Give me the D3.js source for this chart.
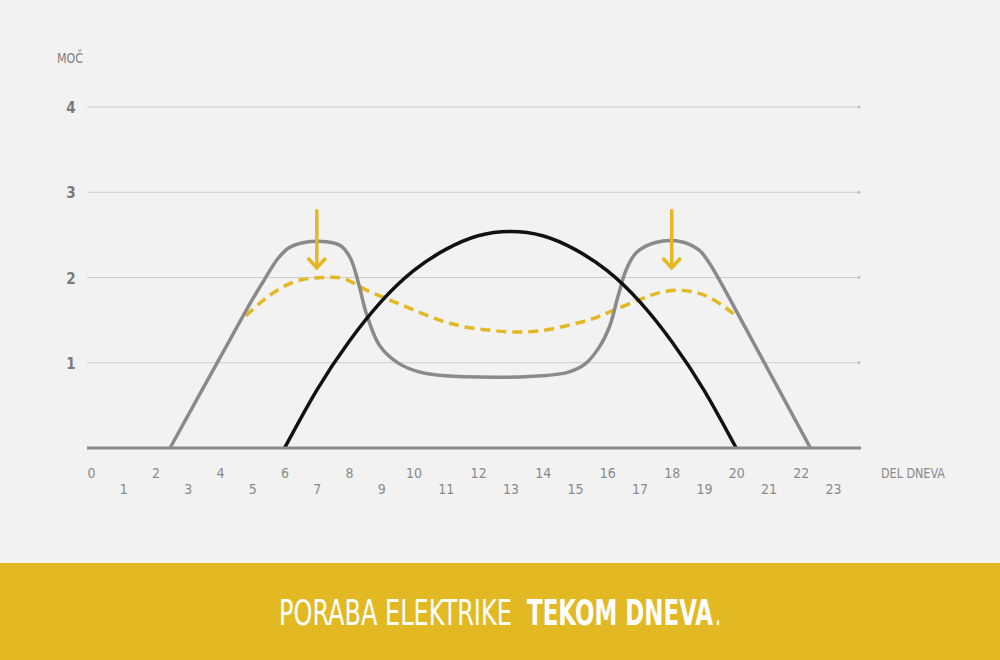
<!DOCTYPE html>
<html>
<head>
<meta charset="utf-8">
<script src="https://cdn.jsdelivr.net/npm/d3@7"></script>
<style>
  html, body { margin: 0; padding: 0; background: #f2f2f2; }
  svg { display: block; }
  text { font-family: "Liberation Sans Narrow", "DejaVu Sans Condensed", "Roboto Condensed", sans-serif; }
</style>
</head>
<body>
<div id="chart"></div>
<script>
// data (hour of day, power)
const hours = d3.range(0, 24);
const yTicks = [1, 2, 3, 4];

// consumption (grey)
const consumption = [
  [2.45, 0], [4, 1.06], [5.0, 1.74], [5.4, 1.99], [5.75, 2.2], [6.1, 2.34],
  [6.6, 2.41], [7.3, 2.42], [7.75, 2.37], [8.05, 2.22], [8.3, 1.92], [8.55, 1.56],
  [8.95, 1.2], [9.55, 0.99], [10.2, 0.89], [10.9, 0.85], [12.5, 0.83], [14.1, 0.85],
  [14.8, 0.89], [15.3, 0.98], [15.75, 1.18], [16.07, 1.42], [16.35, 1.8],
  [16.6, 2.1], [16.9, 2.29], [17.5, 2.41], [18.3, 2.42], [18.85, 2.32],
  [19.15, 2.18], [19.45, 1.99], [20.3, 1.4], [22.3, 0],
];

// solar production (black)
const production = [
  [6, 0], [7, 0.68], [8, 1.25], [9, 1.72], [10, 2.08], [11, 2.33], [12, 2.49],
  [13, 2.54], [14, 2.49], [15, 2.33], [16, 2.08], [17, 1.72], [18, 1.25],
  [19, 0.68], [20, 0],
];

// smoothed consumption (yellow dashed)
const smoothed = [
  [4.8, 1.55], [5.3, 1.72], [5.9, 1.88], [6.5, 1.97], [7.2, 2.0], [7.8, 1.99],
  [8.6, 1.84], [9.3, 1.73], [10, 1.62], [10.8, 1.5], [11.6, 1.42], [12.4, 1.38],
  [13.2, 1.36], [14, 1.38], [14.8, 1.44], [15.5, 1.51], [16.1, 1.6], [17, 1.74],
  [17.6, 1.82], [18.2, 1.85], [18.8, 1.82], [19.3, 1.74], [20, 1.55],
];

// peak arrows: hour, top value, tip value
const arrows = [[7, 2.8, 2.1], [18, 2.8, 2.1]];

// banner title pieces: text, bold?, left x, width
const titleParts = [
  ['PORABA ELEKTRIKE', false, 279, 233],
  ['TEKOM DNEVA', true, 527, 186],
  ['.', false, 715, 6],
];

const width = 1000;
const height = 660;
const yellow = '#e3b823';

const svg = d3.select('#chart').append('svg')
  .attr('width', width)
  .attr('height', height);

svg.append('rect')
  .attr('width', width)
  .attr('height', height)
  .attr('fill', '#f2f2f2');

const x = d3.scaleLinear().domain([0, 23]).range([91, 833]);
const y = d3.scaleLinear().domain([0, 4]).range([448, 107]);

// grid
svg.append('g').selectAll('line')
  .data(yTicks)
  .enter()
  .append('line')
  .attr('x1', 87)
  .attr('x2', 859)
  .attr('y1', (d) => y(d))
  .attr('y2', (d) => y(d))
  .attr('stroke', '#cdcdcd')
  .attr('stroke-width', 1.2);

svg.append('g').selectAll('circle')
  .data(yTicks)
  .enter()
  .append('circle')
  .attr('cx', 859)
  .attr('cy', (d) => y(d))
  .attr('r', 1.4)
  .attr('fill', '#bdbdbd');

// y labels
svg.append('g').selectAll('text')
  .data(yTicks)
  .enter()
  .append('text')
  .attr('x', 71)
  .attr('y', (d) => y(d) + 6)
  .attr('text-anchor', 'middle')
  .attr('font-size', 15)
  .attr('font-weight', 'bold')
  .attr('fill', '#7a7a7a')
  .text((d) => d);

// squeeze a text horizontally to a given width
const fitWidth = (sel, x0, y0, w) => {
  sel.each(function () {
    const len = this.getComputedTextLength();
    d3.select(this).attr('transform', `translate(${x0},${y0}) scale(${w / len},1)`);
  });
};

svg.append('text')
  .attr('font-size', 14)
  .attr('fill', '#808080')
  .text('MOČ')
  .call(fitWidth, 57, 63, 26);

// x axis labels, staggered
const xAxis = d3.axisBottom(x)
  .tickValues(hours)
  .tickSize(0)
  .tickPadding(0)
  .tickFormat(d3.format('d'));

const gx = svg.append('g').call(xAxis);
gx.select('.domain').remove();
gx.selectAll('.tick text')
  .attr('y', (d) => (d % 2 === 0 ? 478 : 494))
  .attr('dy', 0)
  .attr('font-size', 14)
  .attr('fill', '#8a8a8a')
  .style('font-family', '"Liberation Sans Narrow", "DejaVu Sans Condensed", sans-serif');

svg.append('text')
  .attr('font-size', 14)
  .attr('fill', '#8a8a8a')
  .text('DEL DNEVA')
  .call(fitWidth, 881, 478, 64);

const smooth = d3.line()
  .x((d) => x(d[0]))
  .y((d) => y(d[1]))
  .curve(d3.curveCatmullRom.alpha(0.5));

// yellow dashed
svg.append('path')
  .datum(smoothed)
  .attr('d', smooth)
  .attr('fill', 'none')
  .attr('stroke', yellow)
  .attr('stroke-width', 3.5)
  .attr('stroke-dasharray', '10,6');

// grey consumption
svg.append('path')
  .datum(consumption)
  .attr('d', smooth)
  .attr('fill', 'none')
  .attr('stroke', '#8a8a8a')
  .attr('stroke-width', 3.5);

// black production
svg.append('path')
  .datum(production)
  .attr('d', d3.line().x((d) => x(d[0])).y((d) => y(d[1])).curve(d3.curveNatural))
  .attr('fill', 'none')
  .attr('stroke', '#111')
  .attr('stroke-width', 3.5);

// baseline
svg.append('line')
  .attr('x1', 87)
  .attr('x2', 861)
  .attr('y1', y(0))
  .attr('y2', y(0))
  .attr('stroke', '#8a8a8a')
  .attr('stroke-width', 3);

// arrows
const ag = svg.append('g').selectAll('g')
  .data(arrows)
  .enter()
  .append('g')
  .attr('fill', 'none')
  .attr('stroke', yellow)
  .attr('stroke-width', 3.5);

ag.append('line')
  .attr('x1', (d) => x(d[0]))
  .attr('x2', (d) => x(d[0]))
  .attr('y1', (d) => y(d[1]))
  .attr('y2', (d) => y(d[2]) - 1);

ag.append('path')
  .attr('d', (d) => {
    const cx = x(d[0]);
    const ty = y(d[2]);
    return `M${cx - 9},${ty - 11}L${cx},${ty - 1}L${cx + 9},${ty - 11}`;
  });

// banner
svg.append('rect')
  .attr('x', 0)
  .attr('y', 563)
  .attr('width', width)
  .attr('height', height - 563)
  .attr('fill', '#e3b923');

svg.append('g').selectAll('text')
  .data(titleParts)
  .enter()
  .append('text')
  .attr('font-size', 36)
  .attr('font-weight', (d) => (d[1] ? 'bold' : 'normal'))
  .attr('fill', '#fff')
  .text((d) => d[0])
  .each(function (d) {
    d3.select(this).call(fitWidth, d[2], 625, d[3]);
  });
</script>
</body>
</html>
